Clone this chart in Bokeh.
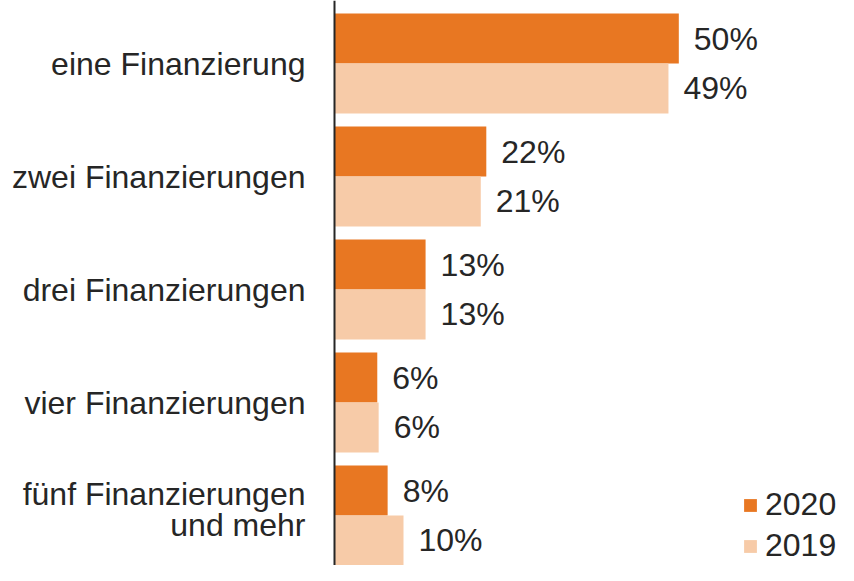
from bokeh.plotting import figure
from bokeh.models import ColumnDataSource, Range1d, Span, Legend, LegendItem
from bokeh.transform import dodge
from bokeh.core.properties import value
from bokeh.embed import file_html
from bokeh.resources import INLINE

categories = ["eine Finanzierung", "zwei Finanzierungen", "drei Finanzierungen",
              "vier Finanzierungen", "fünf Finanzierungen\nund mehr"]
values_2020 = [49.9, 22.0, 13.2, 6.2, 7.7]
values_2019 = [48.4, 21.2, 13.2, 6.4, 10.0]
labels_2020 = ["50%", "22%", "13%", "6%", "8%"]
labels_2019 = ["49%", "21%", "13%", "6%", "10%"]
series_names = ["2020", "2019"]

C2020 = "#E87722"
C2019 = "#F7CBA8"
TXT = "#262626"
FONTNAME = "Liberation Sans"
FONT = value(FONTNAME)
FS = "32px"

n = len(categories)
ypos = [n - i for i in range(n)]          # first category at the top
label_dy = [-6 if "\n" in c else 0 for c in categories]

src = ColumnDataSource(dict(cat=categories, y=ypos, v20=values_2020, v19=values_2019,
                            l20=labels_2020, l19=labels_2019, zero=[0] * n, dy=label_dy))

W, H = 838, 565
scale = 6.9          # px per percent
x0 = 334             # px position of the zero line
pitch = 113          # px per category
top_center = 63      # px from top to the first category centre
y_top = n + top_center / pitch
p = figure(width=W, height=H, output_backend="svg", toolbar_location=None,
           x_range=Range1d(-x0 / scale, (W - x0) / scale),
           y_range=Range1d(y_top - H / pitch, y_top),
           min_border=0, outline_line_color=None)
p.xaxis.visible = False
p.yaxis.visible = False
p.xgrid.visible = False
p.ygrid.visible = False

d = 0.221
hb = 0.442
r20 = p.hbar(y=dodge("y", d), left=0, right="v20", height=hb,
             source=src, fill_color=C2020, line_color=None)
r19 = p.hbar(y=dodge("y", -d), left=0, right="v19", height=hb,
             source=src, fill_color=C2019, line_color=None)

p.text(x="v20", y=dodge("y", d), text="l20", source=src,
       x_offset=15, text_baseline="middle", text_align="left",
       text_font=FONT, text_font_size=FS, text_color=TXT)
p.text(x="v19", y=dodge("y", -d), text="l19", source=src,
       x_offset=15, text_baseline="middle", text_align="left",
       text_font=FONT, text_font_size=FS, text_color=TXT)

p.text(x="zero", y="y", text="cat", source=src, x_offset=-29, y_offset="dy",
       text_baseline="middle", text_align="right", text_line_height=0.88,
       text_font=FONT, text_font_size=FS, text_color=TXT)

p.add_layout(Span(location=0, dimension="height", line_color=TXT, line_width=2))

legend = Legend(items=[LegendItem(label=series_names[0], renderers=[r20]),
                       LegendItem(label=series_names[1], renderers=[r19])],
                location=(742, 1), orientation="vertical",
                glyph_width=16, glyph_height=16, label_standoff=7, spacing=4,
                padding=0, margin=0, border_line_color=None, background_fill_alpha=0,
                label_text_font=FONTNAME, label_text_font_size=FS, label_text_color=TXT)
p.add_layout(legend, "center")

open("out.html", "w").write(file_html(p, INLINE))
